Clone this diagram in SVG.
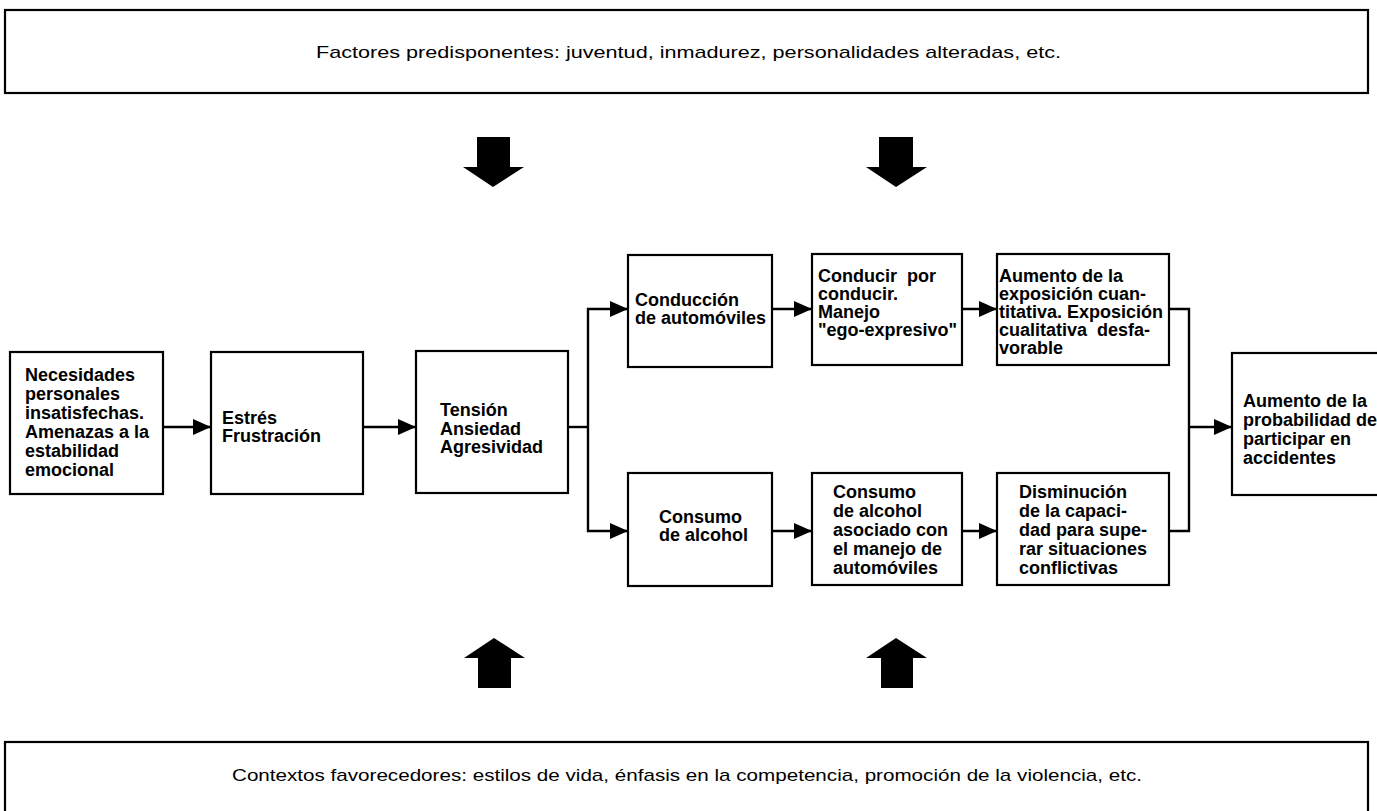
<svg xmlns="http://www.w3.org/2000/svg" width="1377" height="811" viewBox="0 0 1377 811">
<style>
.box{fill:#fff;stroke:#000;stroke-width:2.2}
.t{font-family:"Liberation Sans",Arial,sans-serif;font-size:18px;font-weight:bold;fill:#000}
.b{font-family:"Liberation Sans",Arial,sans-serif;font-size:17px;fill:#000}
.c{fill:none;stroke:#000;stroke-width:2.4}
.blk{fill:#000}
</style>
<defs>
<marker id="ah" viewBox="0 0 18 16" refX="18" refY="8" markerWidth="18" markerHeight="16" markerUnits="userSpaceOnUse" orient="auto">
<path d="M0,0 L18,8 L0,16 z" fill="#000"/>
</marker>
</defs>
<rect width="1377" height="811" fill="#fff"/>

<g id="factores">
<rect class="box" x="5" y="10" width="1363" height="83"/>
<text class="b" x="316" y="58" textLength="745" lengthAdjust="spacingAndGlyphs">Factores predisponentes: juventud, inmadurez, personalidades alteradas, etc.</text>
</g>

<g id="contextos">
<rect class="box" x="5" y="742" width="1363" height="80"/>
<text class="b" x="232" y="781" textLength="910" lengthAdjust="spacingAndGlyphs">Contextos favorecedores: estilos de vida, énfasis en la competencia, promoción de la violencia, etc.</text>
</g>

<g id="block-arrows">
<polygon class="blk" points="477,137 510,137 510,167 524,167 493,187 463,167 477,167"/>
<polygon class="blk" points="879,137 913,137 913,167 927,167 896,187 866,167 879,167"/>
<polygon class="blk" points="494,638 525,658 511,658 511,688 478,688 478,658 464,658"/>
<polygon class="blk" points="896,638 927,658 913,658 913,688 881,688 881,658 866,658"/>
</g>

<g id="connectors">
<path class="c" d="M163,427 H211" marker-end="url(#ah)"/>
<path class="c" d="M363,427 H416" marker-end="url(#ah)"/>
<path class="c" d="M568,427 H588"/>
<path class="c" d="M588,427 V309 H628" marker-end="url(#ah)"/>
<path class="c" d="M588,427 V531 H628" marker-end="url(#ah)"/>
<path class="c" d="M772,309 H812" marker-end="url(#ah)"/>
<path class="c" d="M962,309 H997" marker-end="url(#ah)"/>
<path class="c" d="M772,531 H812" marker-end="url(#ah)"/>
<path class="c" d="M962,531 H997" marker-end="url(#ah)"/>
<path class="c" d="M1169,309 H1189 V531 H1169"/>
<path class="c" d="M1189,427 H1232" marker-end="url(#ah)"/>
</g>

<g id="necesidades">
<rect class="box" x="10" y="352" width="153" height="142"/>
<text class="t" x="25" y="381">Necesidades</text>
<text class="t" x="25" y="400">personales</text>
<text class="t" x="25" y="419">insatisfechas.</text>
<text class="t" x="25" y="438">Amenazas a la</text>
<text class="t" x="25" y="457">estabilidad</text>
<text class="t" x="25" y="476">emocional</text>
</g>

<g id="estres">
<rect class="box" x="211" y="352" width="152" height="142"/>
<text class="t" x="222" y="424">Estrés</text>
<text class="t" x="222" y="442">Frustración</text>
</g>

<g id="tension">
<rect class="box" x="416" y="351" width="152" height="142"/>
<text class="t" x="440" y="416">Tensión</text>
<text class="t" x="440" y="434.5">Ansiedad</text>
<text class="t" x="440" y="453">Agresividad</text>
</g>

<g id="conduccion">
<rect class="box" x="628" y="255" width="144" height="112"/>
<text class="t" x="635" y="306">Conducción</text>
<text class="t" x="635" y="324">de automóviles</text>
</g>

<g id="conducir">
<rect class="box" x="812" y="254" width="150" height="111"/>
<text class="t" x="818" y="282" xml:space="preserve">Conducir  por</text>
<text class="t" x="818" y="300">conducir.</text>
<text class="t" x="818" y="318">Manejo</text>
<text class="t" x="818" y="336">"ego-expresivo"</text>
</g>

<g id="exposicion">
<rect class="box" x="997" y="254" width="172" height="111"/>
<text class="t" x="999" y="282">Aumento de la</text>
<text class="t" x="999" y="300">exposición cuan-</text>
<text class="t" x="999" y="318">titativa. Exposición</text>
<text class="t" x="999" y="336" xml:space="preserve">cualitativa  desfa-</text>
<text class="t" x="999" y="354">vorable</text>
</g>

<g id="consumo">
<rect class="box" x="628" y="473" width="144" height="113"/>
<text class="t" x="659" y="523">Consumo</text>
<text class="t" x="659" y="541">de alcohol</text>
</g>

<g id="consumo-asociado">
<rect class="box" x="812" y="473" width="150" height="112"/>
<text class="t" x="833" y="498">Consumo</text>
<text class="t" x="833" y="517">de alcohol</text>
<text class="t" x="833" y="536">asociado con</text>
<text class="t" x="833" y="555">el manejo de</text>
<text class="t" x="833" y="574">automóviles</text>
</g>

<g id="disminucion">
<rect class="box" x="997" y="473" width="172" height="112"/>
<text class="t" x="1019" y="498">Disminución</text>
<text class="t" x="1019" y="517">de la capaci-</text>
<text class="t" x="1019" y="536">dad para supe-</text>
<text class="t" x="1019" y="555">rar situaciones</text>
<text class="t" x="1019" y="574">conflictivas</text>
</g>

<g id="probabilidad">
<rect class="box" x="1232" y="353" width="170" height="142"/>
<text class="t" x="1243" y="407">Aumento de la</text>
<text class="t" x="1243" y="426">probabilidad de</text>
<text class="t" x="1243" y="445">participar en</text>
<text class="t" x="1243" y="464">accidentes</text>
</g>
</svg>
